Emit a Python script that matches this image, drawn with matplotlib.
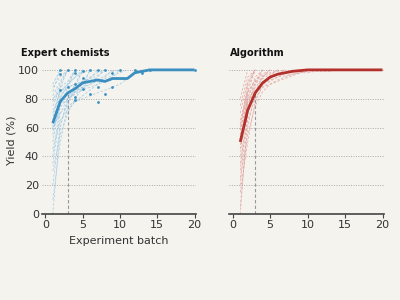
import matplotlib
matplotlib.use("Agg")
import matplotlib.pyplot as plt
import numpy as np

# ---- data ----
batches = list(range(1, 21))
expert_mean = [63, 78, 84, 87, 91, 92, 93, 92, 94, 94, 94, 98, 99, 100, 100, 100, 100, 100, 100, 100]
algo_mean = [50, 72, 84, 91, 95, 97, 98, 99, 99.5, 100, 100, 100, 100, 100, 100, 100, 100, 100, 100, 100]

expert_runs = [
    [0, 60, 80, 85, 90, 100],
    [10, 50, 75, 88, 100],
    [20, 62, 78, 85, 88, 92, 95, 100],
    [35, 70, 80, 90, 100],
    [40, 75, 88, 100],
    [50, 80, 90, 95, 100],
    [55, 82, 88, 90, 92, 94, 100],
    [60, 85, 90, 100],
    [62, 78, 84, 88, 90, 95, 98, 100],
    [65, 88, 100],
    [70, 85, 90, 95, 98, 100],
    [72, 80, 82, 85, 88, 90, 92, 94, 96, 98, 100],
    [75, 88, 92, 100],
    [78, 90, 100],
    [80, 85, 88, 90, 92, 94, 96, 100],
    [82, 92, 100],
    [85, 100],
    [88, 95, 100],
    [90, 100],
    [60, 70, 75, 78, 80, 82, 84, 86, 88, 90, 94, 98, 100],
    [45, 65, 72, 78, 82, 86, 90, 95, 100],
    [30, 55, 70, 80, 88, 100],
    [68, 76, 80, 83, 86, 88, 90, 92, 95, 100],
    [58, 74, 80, 84, 87, 90, 93, 96, 99, 100],
]
expert_dot_x = [2, 2, 2, 3, 3, 4, 4, 4, 4, 4, 5, 5, 5, 6, 6, 7, 7, 7, 8, 8, 9, 9, 10, 12, 13, 13, 14, 20]
expert_dot_y = [100, 97, 86, 100, 88, 100, 98, 90, 81, 79, 99, 94.5, 87, 100, 83, 100, 88, 77.5, 100, 83, 98, 88, 100, 100, 98, 99, 100, 100]

algo_runs = [
    [0, 70, 90, 100],
    [5, 60, 85, 95, 100],
    [20, 75, 92, 100],
    [30, 80, 95, 100],
    [40, 85, 100],
    [45, 78, 88, 94, 97, 100],
    [50, 82, 90, 95, 100],
    [55, 88, 100],
    [60, 90, 100],
    [65, 85, 92, 96, 98, 99, 100],
    [70, 92, 100],
    [75, 95, 100],
    [80, 100],
    [35, 65, 80, 88, 92, 95, 98, 100],
    [25, 55, 75, 85, 90, 93, 95, 97, 98, 99, 100],
    [48, 72, 84, 90, 93, 95, 96, 97, 98, 98, 99, 99, 99, 100],
    [58, 80, 86, 90, 94, 97, 100],
    [15, 50, 78, 90, 96, 100],
    [52, 76, 85, 88, 90, 92, 94, 96, 98, 100],
    [62, 84, 93, 97, 100],
]

titles = ["Expert chemists", "Algorithm"]
xticks = [0, 5, 10, 15, 20]
yticks = [0, 20, 40, 60, 80, 100]
marker_batch = 3

# ---- style ----
bg = "#f5f3ee"
blue = "#3a8fc0"
red = "#b3302d"
text_c = "#333333"

fig = plt.figure(figsize=(4, 3), dpi=100, facecolor=bg)
axL = fig.add_axes([0.104, 0.2867, 0.386, 0.49])
axR = fig.add_axes([0.5725, 0.2867, 0.3875, 0.49])

for ax, runs, mean, col, light, title, tx in [
    (axL, expert_runs, expert_mean, blue, "#9cc8e3", titles[0], -0.134),
    (axR, algo_runs, algo_mean, red, "#e0a3a0", titles[1], 0.005),
]:
    ax.set_facecolor(bg)
    ax.set_xlim(-0.5, 20.2)
    ax.set_ylim(0, 102)
    for y in yticks[1:]:
        ax.axhline(y, color="#aaaaaa", lw=0.7, ls=(0, (1, 1.5)), zorder=0)
    for r in runs:
        ax.plot(range(1, len(r) + 1), r, color=light, lw=0.6, ls=(0, (3, 2)), alpha=0.8, zorder=1)
    mi = batches.index(marker_batch)
    ax.plot([marker_batch, marker_batch], [0, mean[mi]], color="#999999", lw=0.8, ls=(0, (3, 2)), zorder=2)
    ax.plot(batches, mean, color=col, lw=2.0, zorder=4, solid_capstyle="butt")
    for s in ["top", "right", "left"]:
        ax.spines[s].set_visible(False)
    ax.spines["bottom"].set_color("#444444")
    ax.spines["bottom"].set_linewidth(1.2)
    ax.set_xticks(xticks)
    ax.set_yticks(yticks)
    ax.tick_params(axis="x", length=3, color="#444444", labelsize=8, labelcolor=text_c, pad=1)
    ax.tick_params(axis="y", length=0, labelsize=8, labelcolor=text_c, pad=2)
    ax.text(tx, 1.06, title, transform=ax.transAxes,
            fontsize=7, fontweight="heavy", color="#111111", ha="left", va="bottom")

axR.set_yticklabels([])
axL.scatter(expert_dot_x, expert_dot_y, s=4, color=blue, zorder=5, linewidths=0)
axL.set_ylabel("Yield (%)", fontsize=8, color=text_c, labelpad=1)
axL.set_xlabel("Experiment batch", fontsize=8, color=text_c, labelpad=5)

fig.savefig("out.png", dpi=100, facecolor=bg)
